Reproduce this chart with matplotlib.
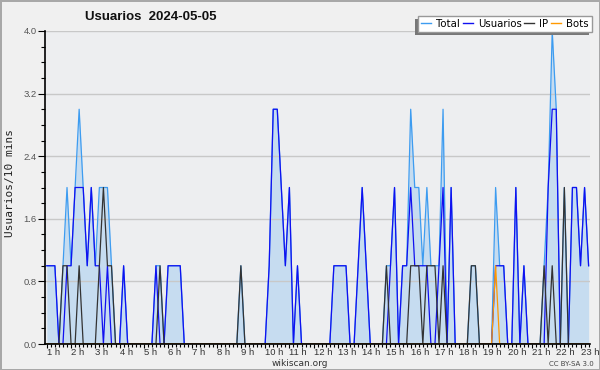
# usuarios por 10 minutos - wikiscan style chart

import numpy as np
import matplotlib
matplotlib.use('Agg')
import matplotlib.pyplot as plt
from matplotlib.lines import Line2D
from matplotlib.patches import Rectangle
from matplotlib.ticker import MultipleLocator

title = 'Usuarios  2024-05-05'
ylabel = 'Usuarios/10 mins'
hours = list(range(1, 24))
hour_labels = ['%d h' % h for h in hours]

# one value per 10 minutes, starting at 1 h
total = [1, 1, 1, 0, 1, 2,  1, 2, 3, 2, 1, 2,  1, 2, 2, 2, 1, 0,
         0, 1, 0, 0, 0, 0,  0, 0, 0, 1, 1, 0,  1, 1, 1, 1, 0, 0,
         0, 0, 0, 0, 0, 0,  0, 0, 0, 0, 0, 0,  1, 0, 0, 0, 0, 0,
         0, 1, 3, 3, 2, 1,  2, 0, 1, 0, 0, 0,  0, 0, 0, 0, 0, 1,
         1, 1, 1, 0, 0, 1,  2, 1, 0, 0, 0, 0,  1, 1, 2, 0, 1, 1,
         3, 2, 2, 1, 2, 1,  1, 1, 3, 0, 2, 0,  0, 0, 0, 1, 1, 0,
         0, 0, 0, 2, 1, 1,  0, 0, 2, 0, 1, 0,  0, 0, 0, 1, 2, 4,
         3, 0, 2, 0, 2, 2,  1, 2, 1]
usuarios = [1, 1, 1, 0, 0, 1,  1, 2, 2, 2, 1, 2,  1, 1, 0, 1, 0, 0,
            0, 1, 0, 0, 0, 0,  0, 0, 0, 1, 0, 0,  1, 1, 1, 1, 0, 0,
            0, 0, 0, 0, 0, 0,  0, 0, 0, 0, 0, 0,  0, 0, 0, 0, 0, 0,
            0, 1, 3, 3, 2, 1,  2, 0, 1, 0, 0, 0,  0, 0, 0, 0, 0, 1,
            1, 1, 1, 0, 0, 1,  2, 1, 0, 0, 0, 0,  0, 1, 2, 0, 1, 1,
            2, 1, 1, 1, 1, 0,  0, 1, 2, 0, 2, 0,  0, 0, 0, 0, 0, 0,
            0, 0, 0, 1, 1, 1,  0, 0, 2, 0, 1, 0,  0, 0, 0, 0, 2, 3,
            3, 0, 0, 0, 2, 2,  1, 2, 1]
ip = [0, 0, 0, 0, 1, 1,  0, 0, 1, 0, 0, 0,  0, 1, 2, 1, 1, 0,
      0, 0, 0, 0, 0, 0,  0, 0, 0, 0, 1, 0,  0, 0, 0, 0, 0, 0,
      0, 0, 0, 0, 0, 0,  0, 0, 0, 0, 0, 0,  1, 0, 0, 0, 0, 0,
      0, 0, 0, 0, 0, 0,  0, 0, 0, 0, 0, 0,  0, 0, 0, 0, 0, 0,
      0, 0, 0, 0, 0, 0,  0, 0, 0, 0, 0, 0,  1, 0, 0, 0, 0, 0,
      1, 1, 1, 0, 1, 1,  1, 0, 1, 0, 0, 0,  0, 0, 0, 1, 1, 0,
      0, 0, 0, 0, 0, 0,  0, 0, 0, 0, 0, 0,  0, 0, 0, 1, 0, 1,
      0, 0, 2, 0, 0, 0,  0, 0, 0]
bots = [0] * 111 + [1] + [0] * 23

x = 1 + np.arange(len(total)) / 6.0

fig = plt.figure(figsize=(6, 3.7), dpi=100, facecolor='#f0f0f0')
fig.patch.set_edgecolor('#a8a8a8')
fig.patch.set_linewidth(2)
ax = fig.add_axes([45/600, 1-344/370, 545/600, 313/370])
ax.set_facecolor('#edeef0')

ax.fill_between(x, total, 0, color='#c6dcf0', lw=0, zorder=0.3)
ax.plot(x, total, color='#3d9cf0', lw=0.9, zorder=1.5)
ax.plot(x, usuarios, color='#1010f0', lw=0.9, zorder=1.7)
ax.plot(x, ip, color='#333333', lw=0.9, zorder=1.9)
ax.plot(x, bots, color='#ff9900', lw=0.9, zorder=2.0)

ax.set_xlim(1 - 1.8/24.26, 1 - 1.8/24.26 + 545/24.26)
ax.set_ylim(0, 4.0)
ax.set_yticks([0.0, 0.8, 1.6, 2.4, 3.2, 4.0])
ax.set_yticklabels(['0.0', '0.8', '1.6', '2.4', '3.2', '4.0'], family='Liberation Sans')
ax.yaxis.set_minor_locator(MultipleLocator(0.2))
ax.set_xticks(hours)
ax.set_xticklabels(hour_labels, ha='left', family='Liberation Sans')
ax.xaxis.set_minor_locator(MultipleLocator(1/6))
ax.grid(axis='y', color='#c8c8c8', lw=1)
ax.set_axisbelow(True)
for s in ['top', 'right']:
    ax.spines[s].set_visible(False)
for s in ['left', 'bottom']:
    ax.spines[s].set_color('black')
    ax.spines[s].set_linewidth(1.2)
ax.tick_params(axis='y', which='major', length=5, width=0.8, labelsize=6.8, labelcolor='#555555', pad=1)
ax.tick_params(axis='y', which='minor', length=3, width=0.8)
ax.tick_params(axis='x', which='major', length=3, width=0.8, labelsize=6.8, labelcolor='#333333', pad=0)
ax.tick_params(axis='x', which='minor', length=2.5, width=0.8)

fig.text(151/600, 1-17/370, title, ha='center', va='center', fontsize=9.5,
         fontweight='bold', family='Liberation Sans', color='#111111')
fig.text(10/600, 1-183/370, ylabel, rotation=90, ha='center', va='center',
         fontsize=8, family='DejaVu Sans Mono', color='#222222')
fig.text(300/600, 1-363.5/370, 'wikiscan.org', ha='center', va='center', fontsize=6.5, color='#333333')
fig.text(594/600, 1-363.5/370, 'CC BY-SA 3.0', ha='right', va='center', fontsize=5, color='#444444')

handles = [Line2D([], [], color='#3d9cf0', lw=1), Line2D([], [], color='#1010f0', lw=1),
           Line2D([], [], color='#333333', lw=1), Line2D([], [], color='#ff9900', lw=1)]
leg = fig.legend(handles, ['Total', 'Usuarios', 'IP', 'Bots'], loc='lower right',
                 bbox_to_anchor=(592/600, 1-32/370), ncol=4, fontsize=7.3, frameon=True,
                 fancybox=False, edgecolor='#999999', framealpha=1, handlelength=1.0,
                 handletextpad=0.5, columnspacing=0.25, borderpad=0.3, borderaxespad=0)
leg.get_frame().set_linewidth(1)
leg.set_zorder(5)

# shadow on the left and below the legend box
fig.canvas.draw()
bb = leg.get_window_extent().transformed(fig.transFigure.inverted())
fig.add_artist(Rectangle((bb.x0 - 3/600, bb.y0 - 3/370), bb.width, bb.height,
                         transform=fig.transFigure, facecolor='#777777', lw=0, zorder=4.9))

fig.savefig('out.png', dpi=100, facecolor=fig.get_facecolor())
